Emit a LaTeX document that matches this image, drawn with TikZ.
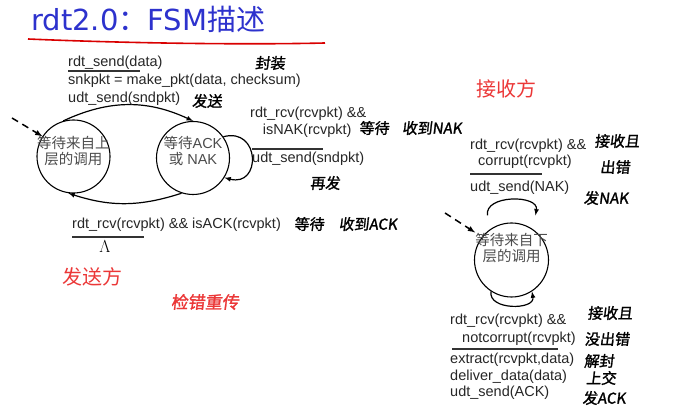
\documentclass[tikz,border=0pt]{standalone}
\usepackage{fontspec}
\setmainfont{Liberation Sans}
\newfontfamily\cjk{Noto Sans CJK SC}
\newfontfamily\hand[FakeSlant=0.12,FakeBold=1.5]{Noto Sans CJK SC}
\newfontfamily\titlefont{DejaVu Sans}
\definecolor{titleblue}{RGB}{45,50,205}
\definecolor{slidered}{RGB}{235,55,55}

\begin{document}
\begin{tikzpicture}[x=1pt, y=1pt,
    state/.style={circle, draw, line width=1.1pt, minimum size=73pt, inner sep=0pt},
    stxt/.style={font=\fontsize{14.5}{16}\selectfont, text=black!70, align=center, inner sep=0pt},
    lbl/.style={anchor=base west, inner sep=0pt, font=\fontsize{14.5}{17}\selectfont, text=black!85},
    hw/.style={inner sep=0pt, font=\hand\fontsize{15}{17}\selectfont},
    trans/.style={-latex, line width=1.2pt},
    initarrow/.style={-latex, line width=1.5pt, dash pattern=on 7pt off 5pt},
    guard/.style={line width=1.8pt, black!80},
    side/.style={font=\cjk\fontsize{20}{22}\selectfont, text=slidered, inner sep=0pt}]
                \useasboundingbox (0,0) rectangle (689,417);

                \node[anchor=base west, inner sep=0pt, text=titleblue, font=\titlefont\fontsize{29}{32}\selectfont] (title) at (31,386) {rdt2.0{\cjk ：}FSM{\cjk 描述}};
                \draw[red!85!black, line width=1.6pt] (28,378) .. controls (120,374) and (240,372) .. (325,374);

                % sender
                \node[state, label={[stxt, yshift=5pt]center:{\cjk 等待来自上}\\{\cjk 层的调用}}] (waitcall) at (73.5,260.5) {};
                \node[state, label={[stxt, yshift=7pt]center:{\cjk 等待}ACK\\{\cjk 或} NAK}] (waitack) at (193,259) {};

                \coordinate (initsnd) at (12,299);
                \draw[initarrow] (initsnd) -- (waitcall.147);
                \draw[trans] (waitcall.106) to[bend left=25] (waitack.90);
                \draw[trans] (waitack.252) to[bend left=18] (waitcall.262);
                \draw[trans] (waitack.35) to[out=15, in=-15, looseness=2.4] (waitack.-32);

                \node[lbl] (sndev) at (68,350) {rdt\_send(data)};
                \draw[guard] (68,346) -- (140,346);
                \node[lbl] (sndmk) at (68,332) {snkpkt = make\_pkt(data, checksum)};
                \node[lbl] (sndudt) at (68,314) {udt\_send(sndpkt)};
                \node[hw] (hfz) at (270,354) {封装};
                \node[hw] (hfs) at (207,316) {发送};

                \node[lbl] (nakev) at (250,299) {rdt\_rcv(rcvpkt) \&\&};
                \node[lbl] (nakis) at (262.7,282) {isNAK(rcvpkt)};
                \draw[guard] (252,268.3) -- (323,268.3);
                \node[lbl] (nakudt) at (252,254) {udt\_send(sndpkt)};
                \node[hw] (hwait1) at (374,289) {等待};
                \node[hw] (hnak) at (432,289) {收到NAK};
                \node[hw] (hre) at (325,234) {再发};

                \node[lbl] (ackev) at (72,188) {rdt\_rcv(rcvpkt) \&\& isACK(rcvpkt)};
                \draw[guard] (72,180) -- (144,180);
                \node[inner sep=0pt, font=\fontsize{16}{18}\selectfont] (lam) at (105,170) {$\Lambda$};
                \node[hw] (hwait2) at (309,193) {等待};
                \node[hw] (hack) at (368,193) {收到ACK};

                \node[side] (sndr) at (92,140) {发送方};
                \node[hw, text=slidered, font=\hand\fontsize{17}{19}\selectfont] (hchk) at (205,115) {检错重传};

                % receiver
                \node[side] (rcvr) at (506,328) {接收方};
                \node[state, minimum size=74pt, label={[stxt, yshift=12pt]center:{\cjk 等待来自下}\\{\cjk 层的调用}}] (waitbelow) at (511.5,157) {};

                \coordinate (initrcv) at (445,204);
                \draw[initarrow, shorten >=8pt] (initrcv) -- (waitbelow.142);
                \draw[trans, shorten <=14pt, shorten >=14pt] (waitbelow.125) to[out=100, in=80, looseness=2.1] (waitbelow.55);
                \draw[trans] (waitbelow.237) to[out=-100, in=-80, looseness=1.2] (waitbelow.303);

                \node[lbl] (corev) at (470,267) {rdt\_rcv(rcvpkt) \&\&};
                \node[lbl] (corcp) at (478,251) {corrupt(rcvpkt)};
                \draw[guard] (470,243) -- (542,243);
                \node[lbl] (corudt) at (470,225) {udt\_send(NAK)};
                \node[hw] (hrc1) at (617,276) {接收且};
                \node[hw] (hrc2) at (615,250) {出错};
                \node[hw] (hrc3) at (606,219) {发NAK};

                \node[lbl] (okev) at (450,92) {rdt\_rcv(rcvpkt) \&\&};
                \node[lbl] (oknc) at (462,74) {notcorrupt(rcvpkt)};
                \draw[guard] (452,68) -- (558,68);
                \node[lbl] (okext) at (450,53) {extract(rcvpkt,data)};
                \node[lbl] (okdel) at (450,36) {deliver\_data(data)};
                \node[lbl] (okudt) at (450,20) {udt\_send(ACK)};
                \node[hw] (hok1) at (610,104) {接收且};
                \node[hw] (hok2) at (607,78) {没出错};
                \node[hw] (hok3) at (599,56) {解封};
                \node[hw] (hok4) at (601,39) {上交};
                \node[hw] (hok5) at (604,19) {发ACK};
            \end{tikzpicture}
\end{document}
